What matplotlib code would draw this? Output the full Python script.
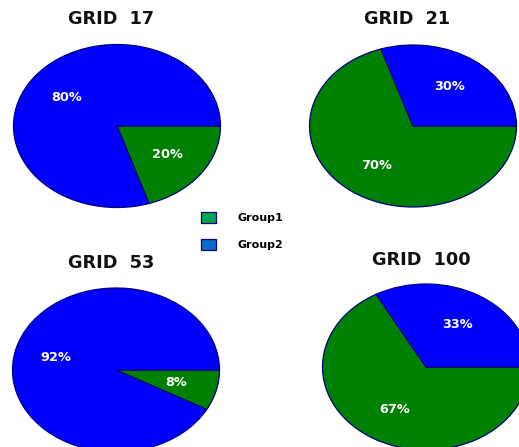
import matplotlib
matplotlib.use("Agg")
import matplotlib.pyplot as plt
from matplotlib.patches import Patch

# Share of each group per grid
titles = ["GRID  17", "GRID  21", "GRID  53", "GRID  100"]
group1 = [20, 70, 8, 67]
group2 = [80, 30, 92, 33]
series_names = ["Group1", "Group2"]

W, H = 519, 447
fig = plt.figure(figsize=(W / 100, H / 100), dpi=100)
fig.patch.set_facecolor("white")

pie_colors = ["#008000", "#0000ff"]
legend_colors = ["#00a651", "#0b6cc4"]
edge = "#000080"

# Layout (pixels): pie centre, x/y radius, title centre
layout = [
    dict(c=(117, 126), r=(103.5, 81.5), t=(111, 19)),
    dict(c=(413, 126), r=(103.5, 81.0), t=(407, 19)),
    dict(c=(116, 370), r=(103.5, 82.0), t=(111, 263)),
    dict(c=(426, 367), r=(103.5, 83.0), t=(421, 260)),
]

for title, g1, g2, lay in zip(titles, group1, group2, layout):
    cx, cy = lay["c"]
    rx, ry = lay["r"]
    ax = fig.add_axes([(cx - rx) / W, 1 - (cy + ry) / H, 2 * rx / W, 2 * ry / H])
    wedges, texts, autotexts = ax.pie(
        [g1, g2],
        colors=pie_colors,
        startangle=0,
        counterclock=False,
        autopct=lambda p: f"{p:.0f}%",
        pctdistance=0.6,
        wedgeprops=dict(edgecolor=edge, linewidth=0.9),
        textprops=dict(color="white", fontweight="bold", fontsize=9.3,
                       family="DejaVu Sans"),
    )
    for w in wedges:
        w.set_clip_on(False)
    ax.set_aspect("auto")
    ax.set_xlim(-1, 1)
    ax.set_ylim(-1, 1)
    ax.axis("off")
    tx, ty = lay["t"]
    fig.text(tx / W, 1 - ty / H, title, ha="center", va="center",
             fontsize=12.7, fontweight="bold", family="DejaVu Sans",
             color="#111111")

handles = [Patch(facecolor=c, edgecolor=edge, linewidth=0.9) for c in legend_colors]
fig.legend(handles, series_names, loc="upper left",
           bbox_to_anchor=(201 / W, 1 - 212 / H),
           frameon=False, borderpad=0, borderaxespad=0,
           handlelength=1.35, handleheight=1.1, handletextpad=1.9,
           labelspacing=1.45,
           prop=dict(family="DejaVu Sans", weight="bold", size=8))

fig.savefig("out.png", dpi=100, facecolor="white")
